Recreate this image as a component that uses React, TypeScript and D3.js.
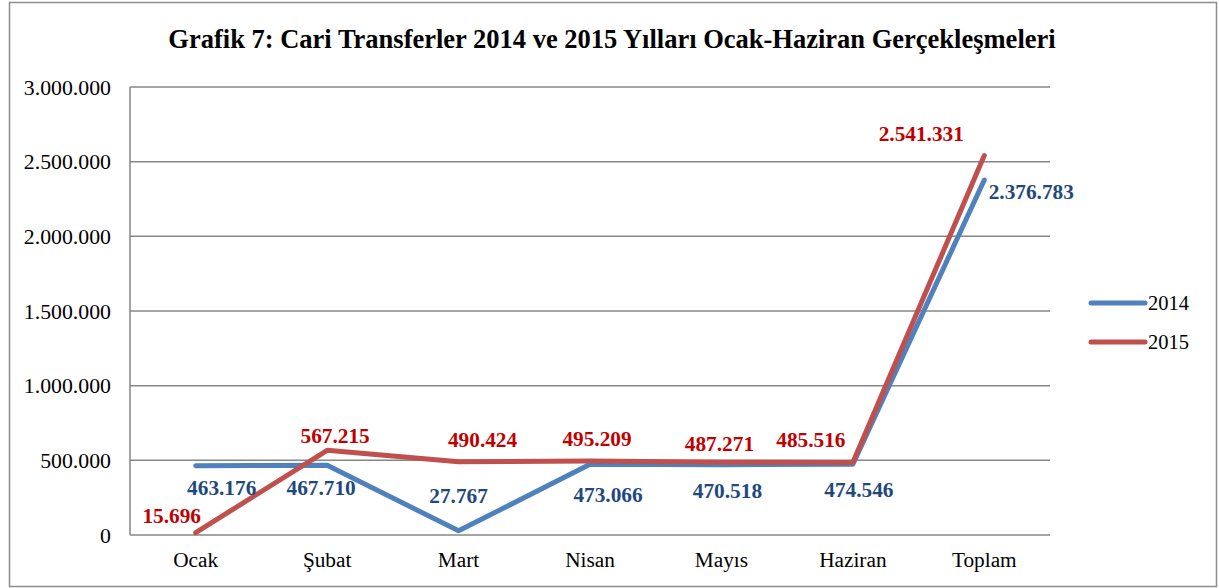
import React from "react";
import * as d3 from "d3";

const categories = ["Ocak", "Şubat", "Mart", "Nisan", "Mayıs", "Haziran", "Toplam"];
const values2014 = [463176, 467710, 27767, 473066, 470518, 474546, 2376783];
const values2015 = [15696, 567215, 490424, 495209, 487271, 485516, 2541331];
const yTicks = [0, 500000, 1000000, 1500000, 2000000, 2500000, 3000000];
const seriesNames = ["2014", "2015"];

// label offsets (dx, dy) relative to the data point
const offsets2014 = [[26, 29], [-6, 30], [0, -28], [18, 38], [6, 33], [6, 33], [47, 19]];
const offsets2015 = [[-24, -10], [8, -7], [24, -15], [7, -15], [-2, -11], [-42, -15], [-63, -14]];

const W = 1219, H = 588;
const M = { left: 130, right: 1050, top: 87, bottom: 535 };
const FONT = "'Liberation Serif', 'Times New Roman', serif";

const fmt = d3.formatLocale({ decimal: ",", thousands: ".", grouping: [3], currency: ["", ""] }).format(",");

export default function App() {
  const x = d3.scaleBand<string>().domain(categories).range([M.left, M.right]);
  const y = d3.scaleLinear().domain([0, 3000000]).range([M.bottom, M.top]);
  const cx = (c: string) => (x(c) as number) + x.bandwidth() / 2;

  const line = d3.line<number>().x((_, i) => cx(categories[i])).y((d) => y(d));

  const series = [
    { name: seriesNames[0], vals: values2014, stroke: "#4F81BD", labelColor: "#1F497D", offs: offsets2014 },
    { name: seriesNames[1], vals: values2015, stroke: "#C0504D", labelColor: "#C00000", offs: offsets2015 },
  ];

  return (
    <svg width={W} height={H} style={{ position: "absolute", left: 0, top: 0, background: "#fff" }} fontFamily={FONT}>
      <rect x={9.5} y={2.5} width={1207} height={584} fill="#fff" stroke="#8c8c8c" strokeWidth={1.5} />
      <text x={612} y={48} textAnchor="middle" fontSize={26.5} fontWeight="bold" fill="#000" fontFamily={FONT}>
        Grafik 7: Cari Transferler 2014 ve 2015 Yılları Ocak-Haziran Gerçekleşmeleri
      </text>
      {yTicks.map((t) => (
        <g key={t}>
          <line x1={M.left} x2={M.right} y1={y(t)} y2={y(t)} stroke="#868686" strokeWidth={1.5} />
          <text x={111} y={y(t) + 7.5} textAnchor="end" fontSize={21.8} fill="#000" fontFamily={FONT}>{fmt(t)}</text>
        </g>
      ))}
      <line x1={M.left} x2={M.left} y1={M.top} y2={M.bottom} stroke="#868686" strokeWidth={1.5} />
      {categories.map((c) => (
        <text key={c} x={cx(c)} y={567} textAnchor="middle" fontSize={21.3} fill="#000" fontFamily={FONT}>{c}</text>
      ))}
      {series.map((s) => (
        <path key={s.name} d={line(s.vals) as string} fill="none" stroke={s.stroke} strokeWidth={5} strokeLinejoin="round" strokeLinecap="round" />
      ))}
      {series.map((s) =>
        s.vals.map((v, i) => (
          <text key={s.name + i} x={cx(categories[i]) + s.offs[i][0]} y={y(v) + s.offs[i][1]} textAnchor="middle" fontSize={21.3} fontWeight="bold" fill={s.labelColor} fontFamily={FONT}>
            {fmt(v)}
          </text>
        ))
      )}
      {series.map((s, i) => (
        <g key={"leg" + s.name}>
          <line x1={1091} x2={1145} y1={303 + i * 39} y2={303 + i * 39} stroke={s.stroke} strokeWidth={5} strokeLinecap="round" />
          <text x={1148} y={310 + i * 39} fontSize={20.5} fill="#000" fontFamily={FONT}>{s.name}</text>
        </g>
      ))}
    </svg>
  );
}
